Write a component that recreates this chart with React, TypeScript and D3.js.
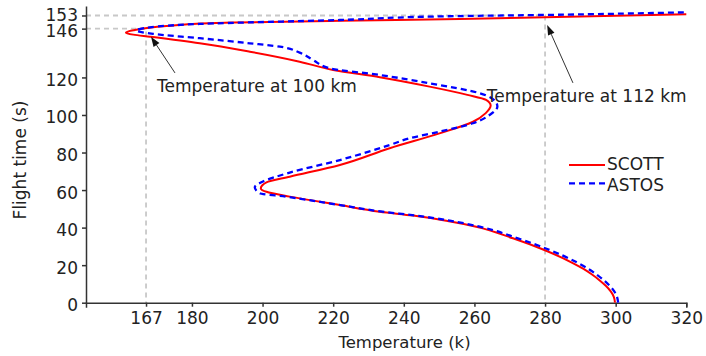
import React, { useEffect, useRef } from "react";
import * as d3 from "d3";

// flight time (s) and temperature (K)
const scottTime = [
  0, 3, 6, 9, 12, 15, 18, 21, 28.6, 34.3, 40.5, 43.7, 46.4, 48.5, 52, 56.5,
  59.1, 60.9, 64.1, 67.1, 73.4, 82.3, 90.2, 96.4, 101, 105, 108, 110.7, 115.1,
  120.1, 124, 128.4, 133.7, 138.2, 141.7, 142.8, 143.8, 145.1, 147.4, 149.2,
  150.2, 151.1, 152, 153.6,
];
const scottTemp = [
  299.8, 299.5, 298.6, 297.2, 295.4, 293.3, 290.9, 288.0, 279.1, 270.9, 260.5,
  252.0, 242.6, 233.2, 221.9, 207.7, 201.1, 199.5, 201.1, 207.7, 221.9, 236.0,
  250.1, 259.6, 263.2, 264.6, 263.3, 258.0, 247.3, 233.2, 220.0, 210.5, 196.4,
  182.2, 168.1, 163.4, 161.3, 163.4, 172.8, 191.7, 221.9, 255.8, 280.0, 320.0,
];

const astosTime = [
  0, 3, 6, 9, 12, 15, 18, 21, 28.6, 34.3, 40.5, 43.7, 46.4, 48.5, 52, 56.5,
  58.3, 61.5, 64, 69.3, 76, 84, 87.6, 91.1, 95.6, 100, 104.5, 107.1, 111.6,
  116.9, 121.3, 124.9, 129.3, 133.2, 136.4, 138.2, 140.9, 143.2, 145, 146.7,
  148.5, 150.6, 152.7, 153.3, 154.7,
];
const astosTemp = [
  300.7, 300.4, 299.6, 298.3, 296.6, 294.6, 292.3, 289.5, 280.6, 272.3, 261.5,
  253.0, 243.5, 234.0, 222.0, 206.5, 199.2, 197.8, 199.5, 207.7, 221.9, 236.0,
  241.7, 250.1, 259.6, 264.3, 266.5, 266.0, 261.5, 247.3, 233.2, 219.0, 214.3,
  210.5, 204.9, 196.4, 182.2, 169.0, 164.3, 168.1, 182.2, 221.9, 255.8, 280.0,
  320.0,
];

const xTicks = [167, 180, 200, 220, 240, 260, 280, 300, 320];
const yTicks = [0, 20, 40, 60, 80, 100, 120, 146, 153];

// guide lines: [temperature, time]
const guidePoints = [
  [167, 146],
  [280, 153],
];

const annotationLabels = ["Temperature at 100 km", "Temperature at 112 km"];
const annotationTips = [
  [168.4, 141.7],
  [280.6, 147.9],
];
const annotationTails = [
  [175.2, 122.4],
  [287.9, 117.1],
];
const annotationTextAt = [
  [170.1, 112.4],
  [263.5, 107.1],
];

const seriesNames = ["SCOTT", "ASTOS"];

const App: React.FC = () => {
  const svgRef = useRef<SVGSVGElement | null>(null);

  useEffect(() => {
    if (!svgRef.current) return;
    const svg = d3.select(svgRef.current);
    svg.selectAll("*").remove();

    const font = "DejaVu Sans";
    const ink = "#222";
    const axisColor = "#333";

    const x = d3.scaleLinear().domain([150, 320]).range([86, 686.3]);
    const y = d3.scaleLinear().domain([0, 158]).range([302.7, 6.1]);

    // grey dashed guides
    const guides = svg
      .append("g")
      .attr("fill", "none")
      .attr("stroke", "#c8c8c8")
      .attr("stroke-width", 1.8)
      .attr("stroke-dasharray", "5,4");
    guidePoints.forEach(([T, t]) => {
      guides
        .append("path")
        .attr("d", `M${x(150)},${y(t)}H${x(T)}V${y(0)}`);
    });

    // axes
    const xAxis = d3
      .axisBottom(x)
      .tickValues(xTicks)
      .tickSize(4)
      .tickSizeOuter(5)
      .tickPadding(5)
      .tickFormat(d3.format("d"));
    const yAxis = d3
      .axisLeft(y)
      .tickValues(yTicks)
      .tickSize(4)
      .tickSizeOuter(0)
      .tickPadding(4)
      .tickFormat(d3.format("d"));

    const gx = svg
      .append("g")
      .attr("transform", `translate(0,${y(0)})`)
      .call(xAxis);
    const gy = svg
      .append("g")
      .attr("transform", `translate(${x(150)},0)`)
      .call(yAxis);

    [gx, gy].forEach((g) => {
      g.attr("font-family", font).attr("font-size", 17);
      g.select(".domain").attr("stroke", axisColor).attr("stroke-width", 1.5);
      g.selectAll(".tick line")
        .attr("stroke", axisColor)
        .attr("stroke-width", 1.5);
      g.selectAll(".tick text").attr("fill", ink);
    });
    gy.selectAll<SVGTextElement, number>(".tick text").attr("dy", (d) =>
      d === 153 ? "0.3em" : "0.47em",
    );

    // series
    const line = d3
      .line<[number, number]>()
      .x((d) => x(d[0]))
      .y((d) => y(d[1]))
      .curve(d3.curveMonotoneY);

    const scott = scottTime.map((t, i) => [scottTemp[i], t] as [number, number]);
    const astos = astosTime.map((t, i) => [astosTemp[i], t] as [number, number]);

    svg
      .append("path")
      .attr("d", line(scott))
      .attr("fill", "none")
      .attr("stroke", "#ff0000")
      .attr("stroke-width", 2);

    svg
      .append("path")
      .attr("d", line(astos))
      .attr("fill", "none")
      .attr("stroke", "#0000ff")
      .attr("stroke-width", 2.3)
      .attr("stroke-dasharray", "6,4");

    // annotations
    annotationLabels.forEach((label, i) => {
      const tx = x(annotationTips[i][0]);
      const ty = y(annotationTips[i][1]);
      const sx = x(annotationTails[i][0]);
      const sy = y(annotationTails[i][1]);
      const len = Math.hypot(tx - sx, ty - sy);
      const ux = (tx - sx) / len;
      const uy = (ty - sy) / len;
      const head = 10;
      const bx = tx - ux * head;
      const by = ty - uy * head;
      svg
        .append("line")
        .attr("x1", sx)
        .attr("y1", sy)
        .attr("x2", bx)
        .attr("y2", by)
        .attr("stroke", axisColor)
        .attr("stroke-width", 1);
      svg
        .append("path")
        .attr(
          "d",
          `M${tx},${ty}L${bx - uy * 3.5},${by + ux * 3.5}L${bx + uy * 3.5},${by - ux * 3.5}Z`,
        )
        .attr("fill", "#111");
      svg
        .append("text")
        .attr("x", x(annotationTextAt[i][0]))
        .attr("y", y(annotationTextAt[i][1]))
        .attr("font-family", font)
        .attr("font-size", 17)
        .attr("fill", ink)
        .text(label);
    });

    // legend
    const legend = svg.append("g").attr("transform", "translate(569,165)");
    seriesNames.forEach((name, i) => {
      legend
        .append("line")
        .attr("x1", 0)
        .attr("x2", 36)
        .attr("y1", i * 18.3)
        .attr("y2", i * 18.3)
        .attr("stroke", i === 0 ? "#ff0000" : "#0000ff")
        .attr("stroke-width", i === 0 ? 2 : 2.3)
        .attr("stroke-dasharray", i === 0 ? null : "6,4");
      legend
        .append("text")
        .attr("x", 38)
        .attr("y", i === 0 ? 5 : 25.7)
        .attr("font-family", font)
        .attr("font-size", 17)
        .attr("fill", ink)
        .text(name);
    });

    // axis titles
    svg
      .append("text")
      .attr("x", 404.5)
      .attr("y", 347.5)
      .attr("text-anchor", "middle")
      .attr("font-family", font)
      .attr("font-size", 16.5)
      .attr("fill", ink)
      .text("Temperature (k)");

    svg
      .append("text")
      .attr("transform", "translate(26,160) rotate(-90)")
      .attr("text-anchor", "middle")
      .attr("font-family", font)
      .attr("font-size", 17)
      .attr("fill", ink)
      .text("Flight time (s)");
  }, []);

  return (
    <svg
      ref={svgRef}
      width={706}
      height={356}
      style={{ position: "absolute", left: 0, top: 0, background: "#fff" }}
    ></svg>
  );
};

export default App;
